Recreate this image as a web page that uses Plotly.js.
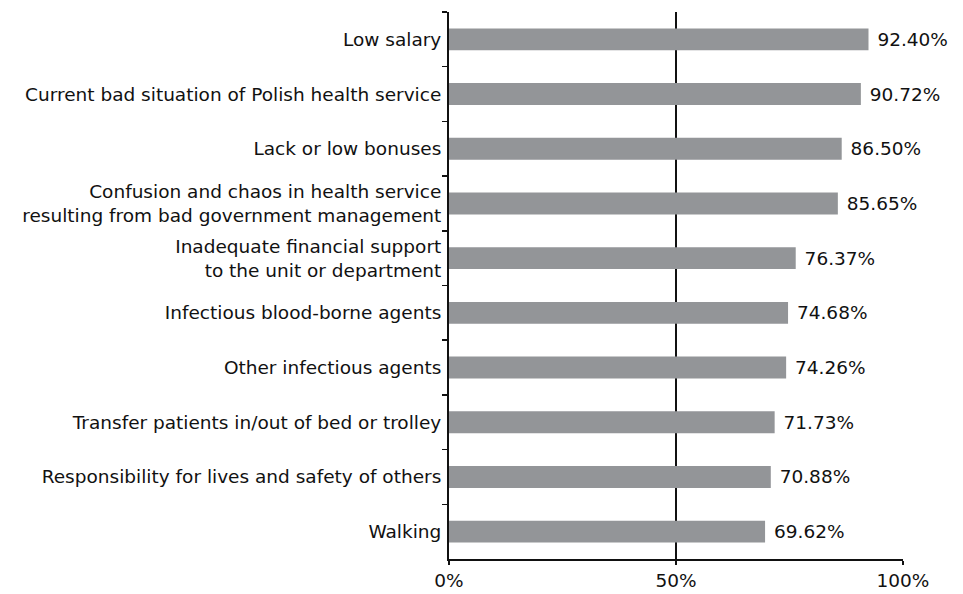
<!DOCTYPE html>
<html>
<head>
<meta charset="utf-8">
<script src="https://cdn.plot.ly/plotly-3.0.1.min.js"></script>
<style>html,body{margin:0;padding:0;background:#fff;}#chart{width:963px;height:594px;}</style>
</head>
<body>
<div id="chart"></div>
<script>
const categories = [
  "Low salary",
  "Current bad situation of Polish health service",
  "Lack or low bonuses",
  "Confusion and chaos in health service<br>resulting from bad government management",
  "Inadequate financial support<br>to the unit or department",
  "Infectious blood-borne agents",
  "Other infectious agents",
  "Transfer patients in/out of bed or trolley",
  "Responsibility for lives and safety of others",
  "Walking"
];
const values = [92.40, 90.72, 86.50, 85.65, 76.37, 74.68, 74.26, 71.73, 70.88, 69.62];
const tickVals = [0, 50, 100];
const tickText = ["0%", "50%", "100%"];

const labels = values.map(v => "\u00a0" + v.toFixed(2) + "%");
const font = {family: "DejaVu Sans, sans-serif", size: 18.5, color: "#111"};

Plotly.newPlot("chart", [{
  type: "bar",
  orientation: "h",
  y: categories,
  x: values,
  marker: {color: "#939598"},
  text: labels,
  textposition: "outside",
  cliponaxis: false,
  textfont: font,
  hoverinfo: "skip"
}], {
  width: 963, height: 594,
  margin: {l: 449, r: 60, t: 12, b: 35, pad: 0},
  paper_bgcolor: "#fff", plot_bgcolor: "#fff",
  bargap: 0.6,
  showlegend: false,
  font: font,
  xaxis: {
    range: [0, 100],
    tickvals: tickVals, ticktext: tickText,
    showgrid: true, gridcolor: "#111", gridwidth: 1.5,
    showline: true, linecolor: "#111", linewidth: 2,
    ticks: "outside", ticklen: 4, tickcolor: "#111", tickwidth: 1.5,
    zeroline: false,
    tickfont: font
  },
  yaxis: {
    type: "category",
    autorange: "reversed",
    showline: true, linecolor: "#111", linewidth: 2,
    ticks: "outside", tickson: "boundaries", ticklen: 5, tickcolor: "#111", tickwidth: 1.5,
    ticklabelstandoff: 2,
    showgrid: false, zeroline: false,
    tickfont: font
  }
}, {staticPlot: true});
</script>
</body>
</html>
